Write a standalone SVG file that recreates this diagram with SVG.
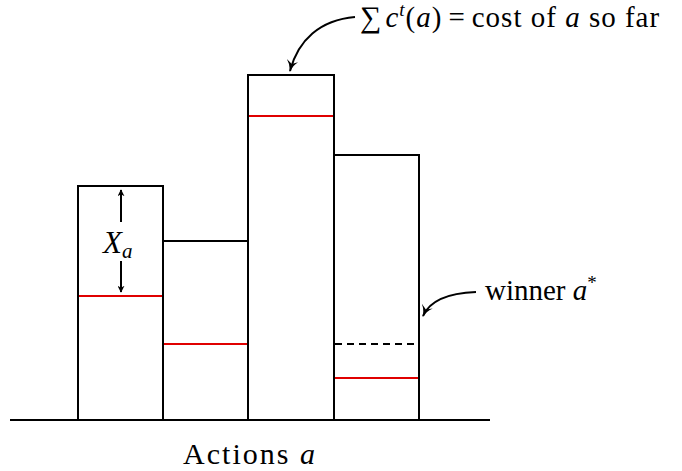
<svg xmlns="http://www.w3.org/2000/svg" width="682" height="471" viewBox="0 0 682 471">
<style>
.bar{fill:#fff;stroke:#000;stroke-width:2}
.red{stroke:#e00000;stroke-width:2}
.ln{stroke:#000;stroke-width:2;fill:none}
.t{font-family:"Liberation Serif",serif;fill:#000}
.i{font-style:italic}
</style>
<defs>
<marker id="ah" viewBox="0 0 10 10" refX="9" refY="5" markerWidth="7" markerHeight="7" orient="auto" markerUnits="userSpaceOnUse">
<path d="M0,0 L10,5 L0,10 L3,5 Z" fill="#000"/>
</marker>
<marker id="ahb" viewBox="0 0 10 10" refX="9" refY="5" markerWidth="12" markerHeight="12" orient="auto" markerUnits="userSpaceOnUse">
<path d="M0,0 Q4,4 10,5 Q4,6 0,10 L3,5 Z" fill="#000"/>
</marker>
</defs>
<g id="bar1"><rect class="bar" x="78" y="186" width="85" height="234"/><line class="red" x1="79" y1="296" x2="162" y2="296"/></g>
<g id="bar2"><rect class="bar" x="163" y="241" width="85" height="179"/><line class="red" x1="164" y1="344" x2="247" y2="344"/></g>
<g id="bar3"><rect class="bar" x="248" y="75" width="86" height="345"/><line class="red" x1="249" y1="116" x2="333" y2="116"/></g>
<g id="bar4"><rect class="bar" x="334" y="155" width="85" height="265"/><line class="red" x1="335" y1="378" x2="418" y2="378"/><line x1="335" y1="344" x2="418" y2="344" stroke="#000" stroke-width="2" stroke-dasharray="7,5"/></g>
<g id="axis"><line class="ln" x1="10" y1="420" x2="490" y2="420"/></g>
<g id="connectors">
<line class="ln" x1="121" y1="222" x2="121" y2="190" marker-end="url(#ah)" stroke-width="1.5"/>
<line class="ln" x1="121" y1="261" x2="121" y2="292" marker-end="url(#ah)" stroke-width="1.5"/>
<path class="ln" d="M355,17 C320,20 298,40 290,71" marker-end="url(#ahb)"/>
<path class="ln" d="M476,292 C450,293 430,300 423,316" marker-end="url(#ahb)"/>
</g>
<g id="labels">
<text class="t" x="103" y="253" font-size="31"><tspan class="i">X</tspan><tspan class="i" font-size="21" dy="5">a</tspan></text>
<text class="t" x="360" y="27" font-size="29" letter-spacing="1"><tspan font-size="30">∑</tspan><tspan class="i" dx="3">c</tspan><tspan class="i" font-size="19" dy="-11">t</tspan><tspan dy="11">(</tspan><tspan class="i">a</tspan><tspan>)</tspan><tspan dx="6">=</tspan><tspan dx="6">cost of </tspan><tspan class="i">a</tspan><tspan> so far</tspan></text>
<text class="t" x="485" y="300" font-size="29">winner <tspan class="i">a</tspan><tspan font-size="19" dy="-11">*</tspan></text>
<text class="t" x="250" y="464" text-anchor="middle" font-size="30" letter-spacing="2">Actions <tspan class="i">a</tspan></text>
</g>
</svg>
